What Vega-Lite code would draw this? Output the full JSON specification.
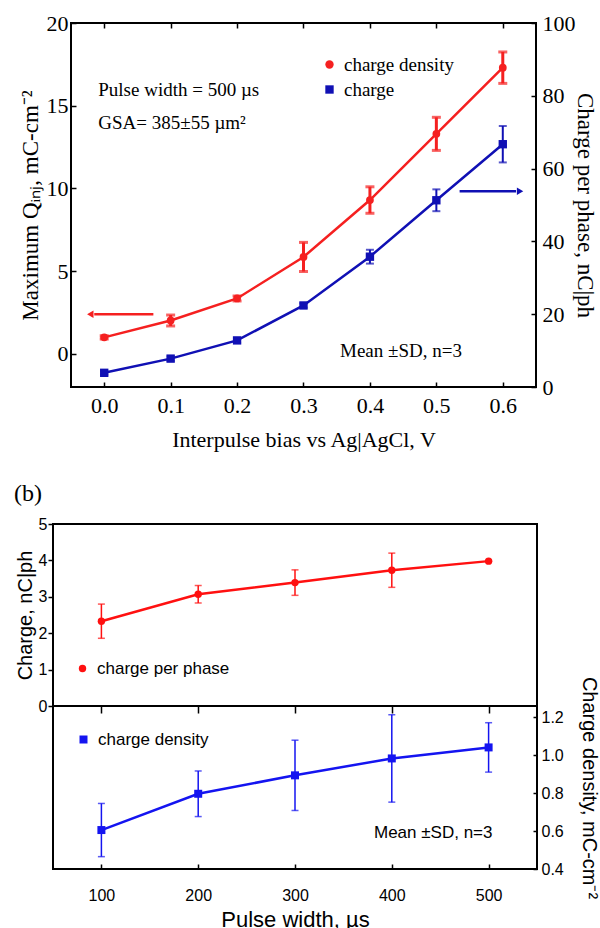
{
  "$schema": "https://vega.github.io/schema/vega-lite/v6.json",
  "background": "white",
  "padding": {"left": 0, "top": 11, "right": 0, "bottom": 0},
  "config": {
    "view": {"stroke": "black", "strokeWidth": 2},
    "axis": {"grid": false, "tickColor": "black", "tickWidth": 1.5, "labelColor": "black", "titleColor": "black", "titleFontWeight": "normal", "labelOverlap": false},
    "axisY": {"labelOverlap": false},
    "axisLeft": {"labelOverlap": false},
    "legend": {"padding": 0}
  },
  "datasets": {
    "a": [
      {"bias": 0.0, "cd": 1.0, "cd_sd": 0.1, "ch": 3.9, "ch_sd": 0.5},
      {"bias": 0.1, "cd": 2.02, "cd_sd": 0.33, "ch": 7.8, "ch_sd": 0.6},
      {"bias": 0.2, "cd": 3.35, "cd_sd": 0.15, "ch": 12.8, "ch_sd": 0.6},
      {"bias": 0.3, "cd": 5.86, "cd_sd": 0.88, "ch": 22.4, "ch_sd": 0.6},
      {"bias": 0.4, "cd": 9.3, "cd_sd": 0.8, "ch": 35.8, "ch_sd": 1.9},
      {"bias": 0.5, "cd": 13.3, "cd_sd": 1.0, "ch": 51.3, "ch_sd": 3.0},
      {"bias": 0.6, "cd": 17.3, "cd_sd": 0.95, "ch": 66.7, "ch_sd": 5.0}
    ],
    "b": [
      {"pw": 100, "q": 2.33, "q_sd": 0.47, "d": 0.605, "d_sd": 0.14},
      {"pw": 200, "q": 3.07, "q_sd": 0.24, "d": 0.796, "d_sd": 0.12},
      {"pw": 300, "q": 3.39, "q_sd": 0.35, "d": 0.893, "d_sd": 0.185},
      {"pw": 400, "q": 3.73, "q_sd": 0.47, "d": 0.982, "d_sd": 0.23},
      {"pw": 500, "q": 3.98, "q_sd": 0, "d": 1.04, "d_sd": 0.13}
    ],
    "one": [{}],
    "none": []
  },
  "vconcat": [
    {
      "hconcat": [
        {
          "width": 18, "height": 5,
          "data": {"name": "none"},
          "mark": "point",
          "view": {"stroke": null}
        },
        {
          "width": 465,
          "height": 364,
          "data": {"name": "a"},
          "layer": [
            {
              "layer": [
                {
                  "mark": {"type": "line", "color": "#f52020", "strokeWidth": 2.5},
                  "encoding": {
                    "x": {"field": "bias", "type": "quantitative", "scale": {"domain": [-0.05, 0.65], "nice": false, "zero": false},
                      "axis": {"values": [0, 0.1, 0.2, 0.3, 0.4, 0.5, 0.6], "format": ".1f", "labelFont": "Liberation Serif", "labelFontSize": 22, "tickSize": -5, "labelPadding": 13, "title": "Interpulse bias vs Ag|AgCl, V", "titleFont": "Liberation Serif", "titleFontSize": 22, "titlePadding": 13, "domain": false}},
                    "y": {"field": "cd", "type": "quantitative", "title": "Maximum Qᵢₙⱼ, mC-cm⁻²", "scale": {"domain": [-2, 20], "nice": false, "zero": false},
                      "axis": {"values": [0, 5, 10, 15, 20], "labelFont": "Liberation Serif", "labelFontSize": 22, "tickSize": -5, "labelPadding": 8, "title": "Maximum Qᵢₙⱼ, mC-cm⁻²", "titleFont": "Liberation Serif", "titleFontSize": 23, "titlePadding": 4, "domain": false}}
                  }
                },
                {
                  "mark": {"type": "errorbar", "color": "#f52020", "thickness": 3, "size": 9, "ticks": true},
                  "encoding": {
                    "x": {"field": "bias", "type": "quantitative", "title": "Interpulse bias vs Ag|AgCl, V"},
                    "y": {"field": "cd", "type": "quantitative", "title": "Maximum Qᵢₙⱼ, mC-cm⁻²"},
                    "yError": {"field": "cd_sd"}
                  }
                },
                {
                  "mark": {"type": "point", "filled": true, "size": 60, "opacity": 1},
                  "encoding": {
                    "x": {"field": "bias", "type": "quantitative", "title": "Interpulse bias vs Ag|AgCl, V"},
                    "y": {"field": "cd", "type": "quantitative", "title": "Maximum Qᵢₙⱼ, mC-cm⁻²"},
                    "color": {"datum": "charge density", "type": "nominal", "scale": {"domain": ["charge density", "charge"], "range": ["#f52020", "#1010b4"]},
                      "legend": {"orient": "none", "legendX": 249, "legendY": 32, "title": null, "labelFont": "Liberation Serif", "labelFontSize": 19, "labelColor": "black", "labelOffset": 5, "rowPadding": 5, "symbolSize": 70}},
                    "shape": {"datum": "charge density", "type": "nominal", "scale": {"domain": ["charge density", "charge"], "range": ["circle", "square"]}}
                  }
                },
                {
                  "data": {"name": "one"},
                  "mark": {"type": "rule", "color": "#f52020", "strokeWidth": 2.5},
                  "encoding": {
                    "x": {"datum": 0.074, "type": "quantitative"},
                    "x2": {"datum": -0.015},
                    "y": {"datum": 2.4, "type": "quantitative"}
                  }
                },
                {
                  "data": {"name": "one"},
                  "mark": {"type": "point", "shape": "triangle-left", "filled": true, "color": "#f52020", "size": 55, "opacity": 1},
                  "encoding": {
                    "x": {"datum": -0.021, "type": "quantitative"},
                    "y": {"datum": 2.4, "type": "quantitative"}
                  }
                },
                {
                  "data": {"name": "one"},
                  "mark": {"type": "text", "align": "left", "baseline": "middle", "font": "Liberation Serif", "fontSize": 19, "fill": "black", "text": "Pulse width = 500 µs"},
                  "encoding": {"x": {"datum": -0.009, "type": "quantitative"}, "y": {"datum": 15.95, "type": "quantitative"}}
                },
                {
                  "data": {"name": "one"},
                  "mark": {"type": "text", "align": "left", "baseline": "middle", "font": "Liberation Serif", "fontSize": 19, "fill": "black", "text": "GSA= 385±55 µm²"},
                  "encoding": {"x": {"datum": -0.009, "type": "quantitative"}, "y": {"datum": 13.96, "type": "quantitative"}}
                },
                {
                  "data": {"name": "one"},
                  "mark": {"type": "text", "align": "left", "baseline": "middle", "font": "Liberation Serif", "fontSize": 19, "fill": "black", "text": "Mean ±SD, n=3"},
                  "encoding": {"x": {"datum": 0.355, "type": "quantitative"}, "y": {"datum": 0.18, "type": "quantitative"}}
                }
              ]
            },
            {
              "layer": [
                {
                  "mark": {"type": "line", "color": "#1010b4", "strokeWidth": 2.5},
                  "encoding": {
                    "x": {"field": "bias", "type": "quantitative",
                      "axis": {"orient": "top", "values": [0, 0.1, 0.2, 0.3, 0.4, 0.5, 0.6], "labels": false, "title": null, "tickSize": -5, "domain": false}},
                    "y": {"field": "ch", "type": "quantitative", "title": "Charge per phase, nC|ph", "scale": {"domain": [0, 100], "nice": false, "zero": false},
                      "axis": {"orient": "right", "values": [0, 20, 40, 60, 80, 100], "labelFont": "Liberation Serif", "labelFontSize": 22, "tickSize": -5, "labelPadding": 11, "title": "Charge per phase, nC|ph", "titleFont": "Liberation Serif", "titleFontSize": 23, "titlePadding": -3, "domain": false}}
                  }
                },
                {
                  "mark": {"type": "errorbar", "color": "#1010b4", "thickness": 2, "size": 8, "ticks": true},
                  "encoding": {
                    "x": {"field": "bias", "type": "quantitative"},
                    "y": {"field": "ch", "type": "quantitative", "title": "Charge per phase, nC|ph"},
                    "yError": {"field": "ch_sd"}
                  }
                },
                {
                  "mark": {"type": "point", "filled": true, "size": 70, "opacity": 1},
                  "encoding": {
                    "x": {"field": "bias", "type": "quantitative"},
                    "y": {"field": "ch", "type": "quantitative", "title": "Charge per phase, nC|ph"},
                    "color": {"datum": "charge", "type": "nominal"},
                    "shape": {"datum": "charge", "type": "nominal"}
                  }
                },
                {
                  "data": {"name": "one"},
                  "mark": {"type": "rule", "color": "#1010b4", "strokeWidth": 2.5},
                  "encoding": {
                    "x": {"datum": 0.535, "type": "quantitative"},
                    "x2": {"datum": 0.62},
                    "y": {"datum": 53.8, "type": "quantitative"}
                  }
                },
                {
                  "data": {"name": "one"},
                  "mark": {"type": "point", "shape": "triangle-right", "filled": true, "color": "#1010b4", "size": 55, "opacity": 1},
                  "encoding": {
                    "x": {"datum": 0.626, "type": "quantitative"},
                    "y": {"datum": 53.8, "type": "quantitative"}
                  }
                }
              ]
            }
          ],
          "resolve": {"scale": {"y": "independent"}, "axis": {"x": "independent"}}
        }
      ],
      "spacing": 0,
      "resolve": {"scale": {"color": "independent", "shape": "independent"}}
    },
    {
      "hconcat": [
        {
          "width": 14, "height": 5,
          "data": {"name": "none"},
          "mark": "point",
          "view": {"stroke": null}
        },
        {
          "title": {"text": "(b)", "anchor": "start", "font": "Liberation Serif", "fontSize": 24, "fontWeight": "normal", "offset": 9, "color": "black"},
          "spacing": 0,
          "bounds": "flush",
          "data": {"name": "b"},
          "resolve": {"scale": {"color": "independent", "shape": "independent"}},
          "vconcat": [
            {
              "width": 484,
              "height": 182,
              "encoding": {
                "x": {"field": "pw", "type": "quantitative", "scale": {"domain": [50, 550], "nice": false, "zero": false},
                  "axis": {"values": [100, 200, 300, 400, 500], "labels": false, "title": null, "tickSize": 7, "domain": false}},
                "y": {"field": "q", "type": "quantitative", "title": "Charge, nC|ph", "scale": {"domain": [0, 5], "nice": false},
                  "axis": {"values": [0, 1, 2, 3, 4, 5], "tickCount": 6, "labelOverlap": false, "labelFont": "Liberation Sans", "labelFontSize": 16, "tickSize": 5, "labelPadding": 1, "title": "Charge, nC|ph", "titleFont": "Liberation Sans", "titleFontSize": 20, "titlePadding": 3, "domain": false}}
              },
              "layer": [
                {
                  "mark": {"type": "line", "color": "#ff1010", "strokeWidth": 2.5}
                },
                {
                  "mark": {"type": "errorbar", "color": "#ff1010", "thickness": 1.5, "size": 7, "ticks": true},
                  "encoding": {
                    "yError": {"field": "q_sd"}
                  }
                },
                {
                  "mark": {"type": "point", "filled": true, "size": 55, "opacity": 1},
                  "encoding": {
                    "color": {"datum": "charge per phase", "type": "nominal", "scale": {"domain": ["charge per phase"], "range": ["#ff1010"]},
                      "legend": {"orient": "none", "legendX": 21, "legendY": 136, "title": null, "labelFont": "Liberation Sans", "labelFontSize": 17, "labelColor": "black", "labelOffset": 6, "symbolSize": 55}},
                    "shape": {"datum": "charge per phase", "type": "nominal", "scale": {"domain": ["charge per phase"], "range": ["circle"]}}
                  }
                },
                {
                  "data": {"name": "one"},
                  "mark": {"type": "text", "align": "left", "baseline": "middle", "font": "Liberation Sans", "fontSize": 20, "fill": "black", "text": "0 mV Bias"},
                  "encoding": {"x": {"datum": 92.4, "type": "quantitative"}, "y": {"datum": 4.48, "type": "quantitative"}}
                }
              ]
            },
            {
              "width": 484,
              "height": 163,
              "layer": [
                {
                  "mark": {"type": "line", "color": "#1414f0", "strokeWidth": 2.5},
                  "encoding": {
                    "x": {"field": "pw", "type": "quantitative", "title": "Pulse width, µs", "scale": {"domain": [50, 550], "nice": false, "zero": false},
                      "axis": {"values": [100, 200, 300, 400, 500], "labelFont": "Liberation Sans", "labelFontSize": 16, "tickSize": -5, "labelPadding": 23, "title": "Pulse width, µs", "titleFont": "Liberation Sans", "titleFontSize": 22, "titlePadding": 6, "domain": false}},
                    "y": {"field": "d", "type": "quantitative", "title": "Charge density, mC-cm⁻²", "scale": {"domain": [0.4, 1.258], "nice": false, "zero": false},
                      "axis": {"orient": "right", "values": [0.4, 0.6, 0.8, 1.0, 1.2], "format": ".1f", "labelFont": "Liberation Sans", "labelFontSize": 16, "tickSize": -4, "labelPadding": 8, "title": "Charge density, mC-cm⁻²", "titleFont": "Liberation Sans", "titleFontSize": 20, "titlePadding": 15, "domain": false}}
                  }
                },
                {
                  "mark": {"type": "errorbar", "color": "#1414f0", "thickness": 1.5, "size": 7, "ticks": true},
                  "encoding": {
                    "x": {"field": "pw", "type": "quantitative", "title": "Pulse width, µs"},
                    "y": {"field": "d", "type": "quantitative", "title": "Charge density, mC-cm⁻²"},
                    "yError": {"field": "d_sd"}
                  }
                },
                {
                  "mark": {"type": "point", "filled": true, "size": 64, "opacity": 1},
                  "encoding": {
                    "x": {"field": "pw", "type": "quantitative", "title": "Pulse width, µs"},
                    "y": {"field": "d", "type": "quantitative", "title": "Charge density, mC-cm⁻²"},
                    "color": {"datum": "charge density", "type": "nominal", "scale": {"domain": ["charge density"], "range": ["#1414f0"]},
                      "legend": {"orient": "none", "legendX": 22, "legendY": 25, "title": null, "labelFont": "Liberation Sans", "labelFontSize": 17, "labelColor": "black", "labelOffset": 6, "symbolSize": 64}},
                    "shape": {"datum": "charge density", "type": "nominal", "scale": {"domain": ["charge density"], "range": ["square"]}}
                  }
                },
                {
                  "data": {"name": "one"},
                  "mark": {"type": "text", "align": "left", "baseline": "middle", "font": "Liberation Sans", "fontSize": 17, "fill": "black", "text": "Mean ±SD, n=3"},
                  "encoding": {"x": {"datum": 381.6, "type": "quantitative"}, "y": {"datum": 0.589, "type": "quantitative"}}
                }
              ]
            }
          ]
        }
      ],
      "spacing": 0
    }
  ],
  "spacing": 31,
  "resolve": {"scale": {"color": "independent", "shape": "independent"}}
}
